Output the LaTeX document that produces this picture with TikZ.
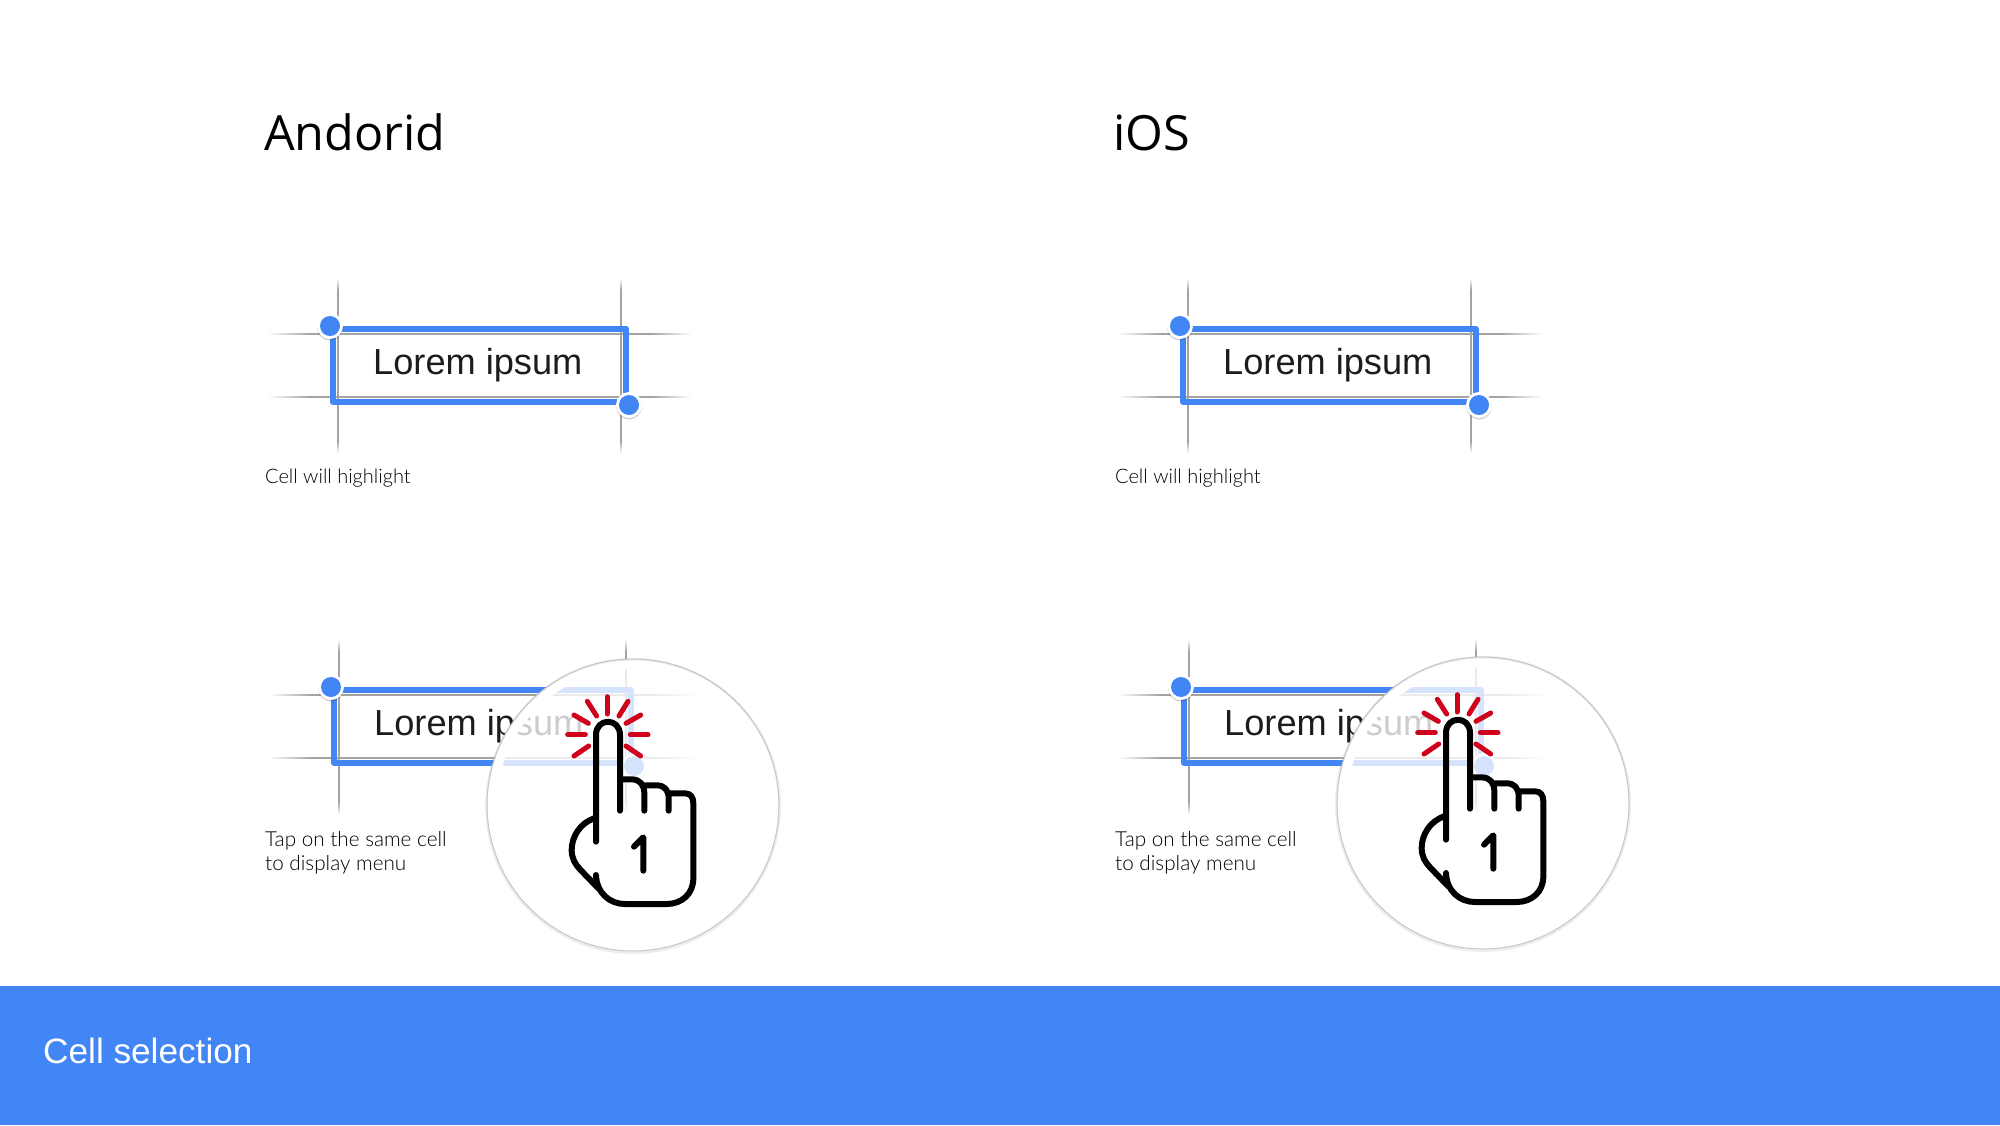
\documentclass[tikz,border=0pt]{standalone}
\usepackage{fontspec}
\setmainfont{Liberation Sans}
\newfontfamily\titlefont{Open Sans}
\newfontfamily\lightfont{Lato Light}
\definecolor{bandblue}{HTML}{4285F4}
\definecolor{gridgray}{HTML}{A3A3A3}
\definecolor{tapred}{HTML}{D0021B}
\definecolor{inktext}{HTML}{1C1C1C}
\tikzset{
  heading/.style={anchor=base west, inner sep=0pt, font=\titlefont\fontsize{48.5}{54}\selectfont},
  lorem/.style={anchor=base west, inner sep=0pt, text=inktext, font=\fontsize{36.2}{40}\selectfont},
  caption/.style={anchor=base west, inner sep=0pt, text=black, align=left, font=\lightfont\fontsize{20}{24}\selectfont},
  tipnote/.style={caption, font=\lightfont\fontsize{20.7}{24}\selectfont},
  cellframe/.style={bandblue, line width=6pt, line join=round},
  hand/.style={black, line width=6pt, line cap=round, line join=round},
  ray/.style={tapred, line width=5pt, line cap=round},
}
% a vertical grid line at #1 and a horizontal one at #1 with faded ends
\newcommand{\vgrid}[1]{
  \shade[top color=white, bottom color=gridgray] (#1-.8,-48) rectangle (#1+.8,-36);
  \fill[gridgray] (#1-.8,-36) rectangle (#1+.8,115);
  \shade[top color=gridgray, bottom color=white] (#1-.8,115) rectangle (#1+.8,127);
}
\newcommand{\hgrid}[2]{
  \shade[left color=white, right color=gridgray] (-63,#1-.8) rectangle (-20,#1+.8);
  \fill[gridgray] (-20,#1-.8) rectangle (#2+30,#1+.8);
  \shade[left color=gridgray, right color=white] (#2+30,#1-.8) rectangle (#2+71,#1+.8);
}
% one grid with its selected cell, #1 names it, #2 x, #3 y of the corner, #4 its width
\newcommand{\gridcell}[4]{
  \begin{scope}[shift={(#2,#3)}]
  \vgrid{8}
  \vgrid{#4}
  \hgrid{8}{#4}
  \hgrid{71}{#4}
  \draw[cellframe] (3,3) rectangle (#4+5,76);
  \node[lorem] (#1text) at (43,48) {Lorem ipsum};
  \fill[black, opacity=.18] (0,1.5) circle (13);
  \fill[white] (0,0) circle (13);
  \fill[bandblue] (0,0) circle (10);
  \fill[black, opacity=.18] (#4+8,80.5) circle (13);
  \fill[white] (#4+8,79) circle (13);
  \fill[bandblue] (#4+8,79) circle (10);
  \end{scope}
}
% the loupe and the tapping hand, drawn in 3x crop units
\newcommand{\tapmark}[2]{
  \begin{scope}[shift={(#1,#2)}, scale=1/3]
  \fill[white, opacity=.78] (489,495) circle (438);
  \draw[white, line width=10pt] (489,495) circle (423);
  \draw[black, opacity=.07, line width=2.5pt] (489,498) circle (440);
  \draw[gray!45, line width=1pt] (489,495) circle (438);
  \foreach \xa/\ya/\xb/\yb in {411/170/411/222, 352/184/380/228, 474/184/447/228,
      312/225/355/250, 512/225/468/250, 293/284/346/284, 481/284/534/284,
      312/348/356/318, 512/348/468/318}
    \draw[ray] (\xa,\ya) -- (\xb,\yb);
  \draw[hand] (378,605) -- (378,285) .. controls (378,232) and (450,232) .. (450,285) -- (450,512);
  \draw[hand] (452,418) -- (485,418) .. controls (510,418) and (523,435) .. (523,460) -- (523,512);
  \draw[hand] (525,436) -- (560,436) .. controls (583,436) and (596,450) .. (596,475) -- (596,512);
  \draw[hand] (598,460) -- (645,460) .. controls (662,460) and (670,472) .. (670,490)
    -- (670,715) .. controls (670,762) and (635,792) .. (590,792) -- (465,792)
    .. controls (420,792) and (380,760) .. (378,705);
  \draw[hand] (372,535) .. controls (330,550) and (305,590) .. (305,630)
    .. controls (305,655) and (315,672) .. (330,688) -- (385,745);
  \draw[hand] (492,620) -- (520,592) -- (520,692);
  \end{scope}
}
\begin{document}
\begin{tikzpicture}[x=1pt, y=-1pt]
\useasboundingbox (0,0) rectangle (2000,1125);
\fill[bandblue] (0,986) rectangle (2000,1125);
\node[anchor=base west, inner sep=0pt, text=white, font=\fontsize{35.2}{40}\selectfont] (bandtitle) at (43,1063) {Cell selection};
\node[heading] (androidtitle) at (264,150) {Andorid};
\node[heading] (iostitle) at (1113,150) {iOS};
% top row
\gridcell{androidtop}{330}{326}{291}
\gridcell{iostop}{1180}{326}{291}
\node[caption] (androidnote) at (265,483) {Cell will highlight};
\node[caption] (iosnote) at (1115,483) {Cell will highlight};
% bottom row
\gridcell{androidtap}{331}{687}{295}
\gridcell{iostap}{1181}{687}{295}
\node[tipnote] (androidtip) at (265,870) {Tap on the same cell\\to display menu};
\node[tipnote] (iostip) at (1115,870) {Tap on the same cell\\to display menu};
\tapmark{470}{640}
\tapmark{1320}{638}
\end{tikzpicture}
\end{document}
